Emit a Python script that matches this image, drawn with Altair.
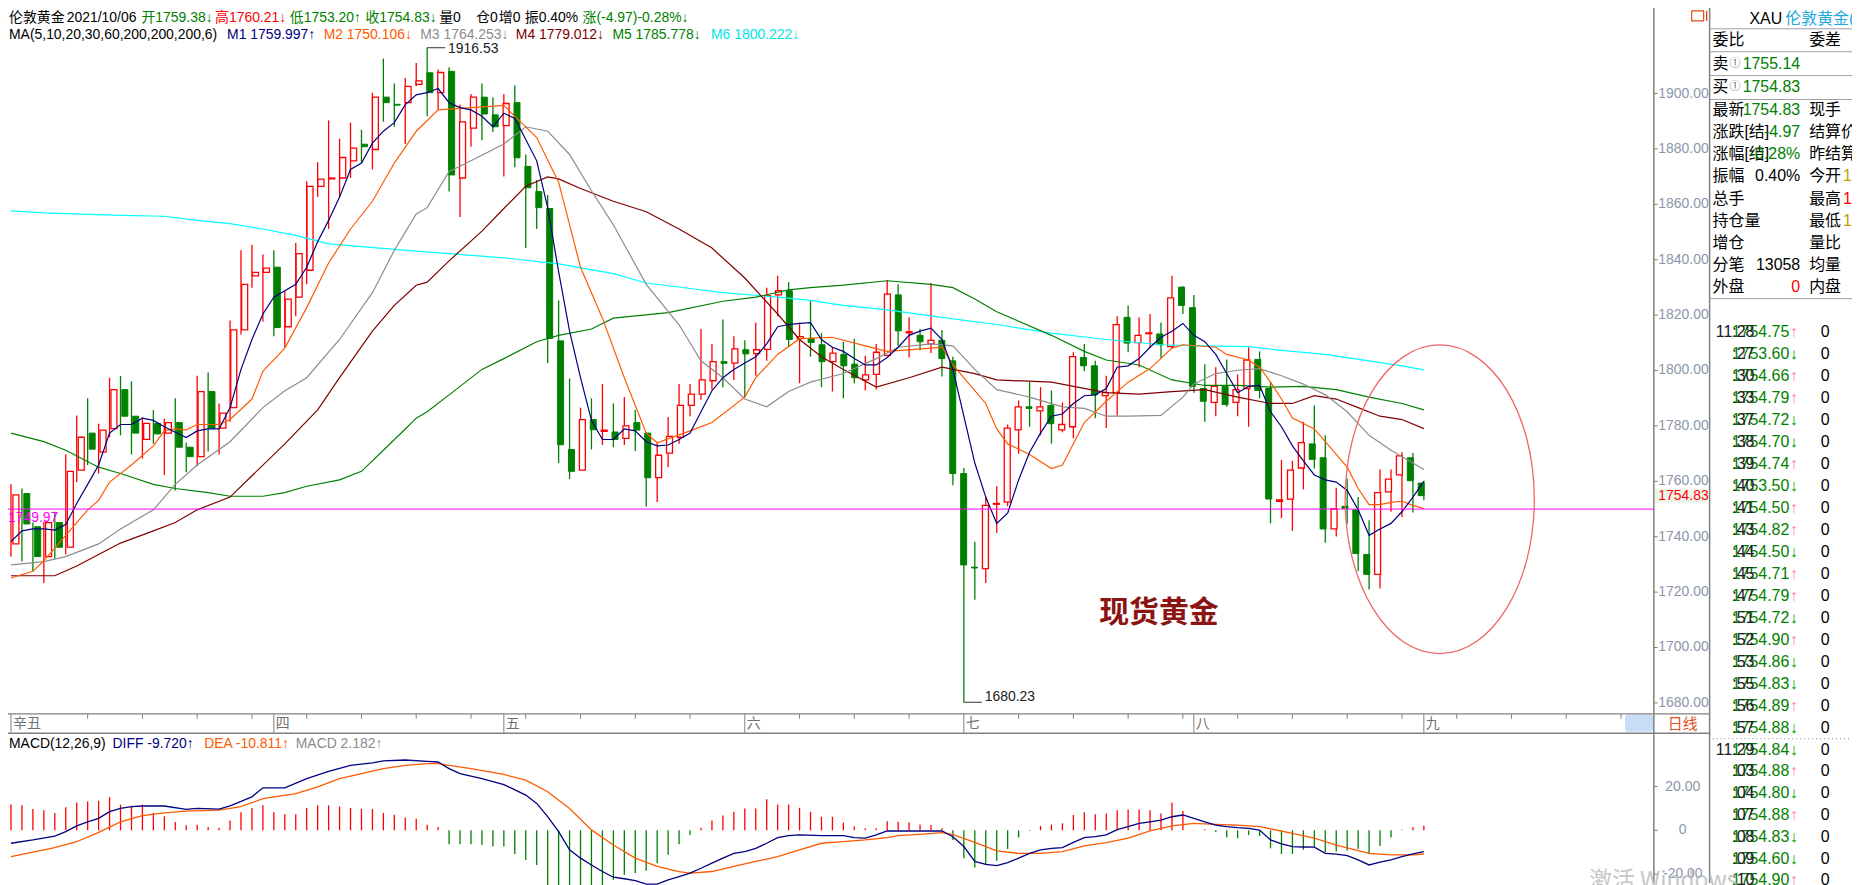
import altair as alt
import pandas as pd

# ---------------- values ----------------
OPEN = [1737.4, 1755.6, 1743.6, 1732.8, 1745.1, 1736.2, 1764.0, 1777.4, 1770.5, 1779.0,
        1793.1, 1783.5, 1775.1, 1780.9, 1777.4, 1781.2, 1772.3, 1768.9, 1792.4, 1779.2,
        1786.6, 1814.7, 1834.2, 1835.4, 1837.3, 1815.8, 1826.5, 1836.2, 1866.5, 1869.2,
        1869.5, 1875.7, 1881.7, 1879.8, 1898.7, 1896.1, 1896.7, 1903.3, 1907.5, 1900.3,
        1908.0, 1869.5, 1887.5, 1898.7, 1892.3, 1888.4, 1896.7, 1873.7, 1864.6, 1858.5,
        1810.7, 1771.5, 1764.0, 1782.3, 1778.0, 1777.8, 1775.5, 1781.2, 1777.4, 1761.3,
        1770.2, 1775.9, 1787.4, 1791.5, 1796.3, 1803.2, 1802.7, 1807.5, 1806.1, 1807.6,
        1827.3, 1828.8, 1811.5, 1811.6, 1809.3, 1803.2, 1805.8, 1802.3, 1796.6, 1798.6,
        1805.5, 1827.3, 1813.6, 1812.7, 1809.6, 1810.9, 1803.5, 1762.8, 1729.0, 1728.5,
        1751.7, 1752.5, 1778.6, 1786.9, 1785.4, 1787.4, 1778.6, 1779.7, 1804.7, 1801.7,
        1790.9, 1792.0, 1819.2, 1810.1, 1813.3, 1813.2, 1808.6, 1830.1, 1822.7, 1793.5,
        1788.5, 1794.3, 1788.5, 1793.5, 1804.0, 1793.5, 1752.8, 1753.6, 1764.8, 1773.5,
        1768.5, 1742.8, 1751.0, 1749.7, 1733.6, 1726.4, 1756.2, 1762.3, 1768.5, 1759.38]
HIGH = [1758.9, 1757.4, 1745.1, 1745.4, 1749.0, 1769.7, 1783.8, 1790.0, 1780.8, 1797.4,
        1798.0, 1796.1, 1783.2, 1785.7, 1782.6, 1790.0, 1773.9, 1798.1, 1799.3, 1788.1,
        1818.1, 1843.4, 1845.4, 1841.9, 1843.4, 1828.9, 1846.0, 1868.3, 1875.2, 1890.3,
        1883.7, 1889.5, 1886.9, 1900.3, 1912.6, 1903.6, 1905.6, 1911.0, 1916.53, 1908.7,
        1909.5, 1896.0, 1899.8, 1903.6, 1898.7, 1899.8, 1902.9, 1878.0, 1868.8, 1863.4,
        1825.3, 1797.1, 1786.6, 1790.0, 1795.1, 1788.1, 1790.4, 1785.7, 1777.6, 1774.0,
        1783.2, 1795.1, 1795.1, 1815.0, 1809.6, 1818.4, 1812.4, 1810.9, 1817.3, 1829.9,
        1834.2, 1831.9, 1817.3, 1825.3, 1813.5, 1808.4, 1810.4, 1811.5, 1805.3, 1809.6,
        1832.7, 1831.1, 1819.2, 1815.0, 1831.6, 1814.6, 1805.0, 1764.8, 1738.2, 1754.3,
        1758.2, 1780.5, 1789.2, 1795.8, 1794.0, 1792.8, 1788.5, 1806.6, 1809.6, 1803.5,
        1798.1, 1819.6, 1823.5, 1819.2, 1820.4, 1817.3, 1834.2, 1830.4, 1827.3, 1802.3,
        1801.2, 1804.0, 1798.6, 1808.4, 1806.9, 1795.8, 1767.7, 1767.4, 1781.5, 1787.4,
        1776.6, 1757.7, 1761.0, 1754.3, 1745.9, 1764.3, 1764.3, 1770.5, 1770.2, 1760.21]
LOW = [1732.8, 1731.0, 1727.5, 1723.3, 1732.1, 1733.6, 1759.7, 1765.9, 1762.8, 1775.9,
       1776.6, 1769.7, 1768.2, 1773.6, 1762.3, 1756.7, 1763.3, 1765.4, 1770.8, 1769.7,
       1781.5, 1813.0, 1829.9, 1817.6, 1812.4, 1808.4, 1819.6, 1831.1, 1862.6, 1851.1,
       1862.6, 1869.5, 1874.9, 1872.6, 1889.8, 1888.0, 1881.8, 1902.6, 1891.8, 1894.1,
       1864.6, 1855.4, 1880.8, 1883.1, 1886.1, 1870.0, 1873.4, 1844.2, 1851.1, 1802.7,
       1766.6, 1760.8, 1764.0, 1771.5, 1773.1, 1772.3, 1773.1, 1770.9, 1750.8, 1752.5,
       1765.1, 1773.6, 1783.5, 1789.4, 1793.1, 1794.0, 1796.6, 1790.4, 1798.1, 1803.5,
       1819.6, 1808.4, 1795.4, 1805.0, 1794.0, 1792.4, 1790.0, 1795.4, 1792.8, 1793.1,
       1805.3, 1808.9, 1804.7, 1807.3, 1806.3, 1797.8, 1758.6, 1680.23, 1717.2, 1723.3,
       1741.3, 1751.0, 1770.0, 1779.7, 1776.6, 1773.6, 1777.7, 1775.5, 1799.7, 1782.8,
       1779.2, 1783.8, 1806.6, 1801.2, 1808.1, 1804.3, 1807.8, 1820.4, 1792.0, 1781.5,
       1783.5, 1786.9, 1783.5, 1779.7, 1790.0, 1744.8, 1746.7, 1742.1, 1757.1, 1764.6,
       1737.8, 1740.1, 1744.7, 1727.5, 1720.9, 1721.3, 1749.0, 1747.1, 1748.7, 1753.20]
CLOSE = [1755.1, 1744.6, 1732.8, 1745.1, 1736.2, 1763.6, 1775.9, 1771.6, 1778.5, 1793.1,
         1783.5, 1777.4, 1780.9, 1777.1, 1781.2, 1772.3, 1768.9, 1792.4, 1779.2, 1784.6,
         1814.7, 1831.1, 1835.4, 1837.0, 1815.5, 1825.8, 1842.2, 1866.5, 1869.1, 1869.5,
         1876.9, 1880.3, 1880.8, 1898.7, 1896.7, 1895.8, 1902.6, 1904.6, 1900.3, 1907.6,
         1870.6, 1889.8, 1898.7, 1892.6, 1888.0, 1896.4, 1876.8, 1866.0, 1858.8, 1811.6,
         1773.2, 1763.6, 1782.3, 1778.6, 1778.5, 1775.1, 1780.0, 1778.5, 1761.3, 1769.4,
         1776.2, 1787.4, 1791.5, 1796.6, 1803.2, 1802.6, 1807.8, 1806.0, 1807.5, 1827.0,
         1828.8, 1811.2, 1812.2, 1810.1, 1803.2, 1806.3, 1801.7, 1797.4, 1798.4, 1806.6,
         1827.6, 1814.3, 1814.0, 1810.4, 1810.9, 1804.3, 1762.8, 1729.8, 1728.7, 1751.3,
         1752.0, 1779.2, 1786.9, 1786.3, 1786.9, 1780.8, 1780.5, 1805.0, 1801.7, 1791.2,
         1792.0, 1816.6, 1809.9, 1812.7, 1813.6, 1809.3, 1826.2, 1823.5, 1794.3, 1788.9,
         1794.3, 1787.7, 1793.1, 1803.8, 1792.8, 1753.6, 1753.3, 1764.0, 1774.0, 1767.9,
         1742.8, 1750.0, 1750.2, 1733.9, 1726.4, 1755.9, 1760.8, 1769.2, 1760.2, 1754.83]

MA5 = [1738.2, 1742.1, 1742.8, 1742.8, 1742.4, 1744.4, 1752.0, 1758.9, 1765.9, 1777.4,
       1780.5, 1780.5, 1782.8, 1782.0, 1779.7, 1777.7, 1775.8, 1778.2, 1778.9, 1778.9,
       1786.6, 1800.4, 1811.2, 1820.4, 1826.5, 1828.8, 1831.1, 1837.3, 1846.5, 1854.2,
       1862.6, 1872.6, 1874.9, 1882.1, 1886.4, 1889.5, 1896.0, 1899.5, 1900.3, 1901.8,
       1896.7, 1894.9, 1894.1, 1891.8, 1888.0, 1892.9, 1891.0, 1883.4, 1875.7, 1858.8,
       1835.7, 1814.2, 1797.4, 1782.0, 1775.1, 1775.1, 1778.9, 1778.2, 1774.3, 1772.8,
       1773.1, 1775.1, 1777.4, 1785.1, 1792.7, 1797.4, 1800.4, 1802.7, 1805.0, 1809.6,
       1815.8, 1816.6, 1817.0, 1817.3, 1811.2, 1808.4, 1806.9, 1804.3, 1802.0, 1802.0,
       1804.7, 1808.4, 1812.7, 1814.2, 1815.3, 1811.2, 1800.4, 1783.5, 1766.6, 1754.3,
       1744.8, 1748.5, 1760.5, 1770.5, 1777.4, 1783.5, 1784.3, 1788.1, 1790.9, 1791.2,
       1793.5, 1801.2, 1801.7, 1804.3, 1808.4, 1812.0, 1814.2, 1817.0, 1812.7, 1810.4,
       1805.8, 1798.9, 1792.0, 1794.3, 1794.6, 1785.1, 1779.7, 1772.8, 1767.4, 1762.3,
       1760.5, 1759.7, 1756.7, 1749.7, 1740.5, 1742.8, 1744.8, 1749.0, 1754.3, 1760.0]

MA10_I = [0, 2, 3, 5, 7, 8, 9, 11, 13, 14, 15, 16, 17, 19, 20, 22, 23, 25, 27, 29,
          31, 33, 35, 37, 39, 42, 45, 48, 50, 52, 54, 56, 58, 59, 62, 64, 67, 68, 70, 72,
          75, 78, 80, 84, 85, 86, 89, 90, 91, 93, 95, 96, 98, 100, 102, 104, 106, 107, 110, 111,
          113, 114, 115, 116, 117, 119, 120, 121, 122, 123, 124, 125, 126, 127, 128, 129]
MA10_V = [1725.1, 1727.5, 1731.3, 1740.5, 1749.7, 1753.1, 1759.7, 1765.9, 1772.8, 1778.2,
          1778.9, 1778.6, 1780.5, 1780.5, 1782.3, 1789.7, 1799.7, 1808.1, 1822.7, 1838.8,
          1851.1, 1861.1, 1874.9, 1886.4, 1894.1, 1894.9, 1895.7, 1884.1, 1868.0, 1837.3,
          1818.9, 1797.4, 1777.4, 1773.9, 1778.2, 1781.2, 1790.4, 1797.4, 1805.8, 1811.5,
          1812.0, 1808.9, 1806.9, 1808.1, 1808.4, 1802.0, 1788.1, 1778.9, 1773.5, 1769.7,
          1764.6, 1765.9, 1781.2, 1788.9, 1795.8, 1800.7, 1808.1, 1809.3, 1808.4, 1805.8,
          1803.8, 1801.2, 1795.8, 1789.7, 1782.8, 1778.9, 1774.3, 1769.7, 1765.1, 1757.4,
          1751.6, 1751.6, 1752.4, 1752.8, 1751.3, 1750.11]

MA20_I = [0, 3, 5, 8, 10, 13, 15, 17, 20, 23, 25, 27, 30, 33, 35, 37, 38, 40, 42, 45,
          47, 49, 51, 53, 55, 58, 61, 63, 65, 67, 69, 71, 73, 76, 79, 81, 84, 86, 88, 90,
          93, 96, 98, 100, 102, 105, 107, 108, 110, 112, 114, 116, 118, 120, 122, 124, 126, 128, 129]
MA20_V = [1729.8, 1731.0, 1732.8, 1737.4, 1742.8, 1749.7, 1758.9, 1765.9, 1774.3, 1786.6,
          1792.7, 1797.4, 1811.2, 1828.1, 1843.4, 1856.5, 1858.8, 1871.9, 1875.7, 1881.8,
          1888.0, 1886.4, 1878.0, 1864.9, 1852.6, 1831.1, 1816.5, 1803.5, 1797.4, 1789.7,
          1786.9, 1792.4, 1795.8, 1798.9, 1804.3, 1808.4, 1809.6, 1808.9, 1800.4, 1793.1,
          1790.4, 1786.9, 1786.3, 1783.5, 1783.5, 1783.8, 1790.4, 1795.1, 1798.9, 1800.1,
          1800.7, 1798.1, 1795.1, 1791.2, 1785.1, 1776.6, 1771.2, 1766.6, 1764.25]

MA30_I = [0, 2, 4, 6, 8, 10, 13, 15, 17, 20, 22, 25, 28, 30, 33, 35, 37, 38, 40, 43,
          45, 47, 49, 50, 52, 55, 58, 61, 64, 67, 70, 72, 74, 76, 79, 82, 85, 88, 90, 95,
          100, 103, 106, 109, 112, 115, 117, 119, 121, 123, 125, 127, 129]
MA30_V = [1725.9, 1725.9, 1725.9, 1729.4, 1733.6, 1737.7, 1742.1, 1745.1, 1749.7, 1754.3,
          1762.0, 1773.5, 1785.8, 1797.4, 1814.2, 1823.5, 1830.8, 1831.9, 1839.6, 1850.3,
          1858.5, 1866.5, 1869.9, 1869.2, 1865.7, 1861.1, 1857.3, 1851.1, 1844.2, 1833.4,
          1820.4, 1811.2, 1805.0, 1800.4, 1794.0, 1797.4, 1801.2, 1798.9, 1796.6, 1795.8,
          1792.0, 1791.5, 1792.4, 1793.1, 1790.4, 1788.1, 1788.1, 1790.9, 1789.7, 1786.6,
          1783.5, 1782.3, 1779.01]

MA60_I = [0, 3, 5, 8, 10, 13, 15, 18, 20, 23, 25, 27, 30, 32, 34, 36, 37, 38, 40, 43,
          45, 48, 50, 53, 55, 60, 65, 68, 71, 73, 76, 80, 84, 86, 88, 90, 95, 98, 100, 103,
          106, 109, 112, 115, 118, 121, 124, 127, 129]
MA60_V = [1777.4, 1774.3, 1771.2, 1765.1, 1762.8, 1758.9, 1757.4, 1755.9, 1754.6, 1754.6,
          1755.9, 1758.2, 1760.5, 1763.6, 1771.2, 1778.9, 1782.8, 1785.1, 1791.2, 1800.4,
          1804.3, 1810.4, 1812.7, 1815.0, 1818.9, 1820.9, 1825.0, 1826.5, 1829.1, 1829.9,
          1830.8, 1832.4, 1831.1, 1829.9, 1825.8, 1821.2, 1812.7, 1806.9, 1803.8, 1802.0,
          1796.6, 1794.6, 1794.6, 1794.0, 1794.3, 1793.1, 1790.4, 1788.1, 1785.78]

MA200_I = [0, 3, 10, 14, 17, 20, 23, 26, 29, 32, 37, 40, 45, 50, 55, 58, 62, 65, 70, 73,
           76, 80, 85, 90, 95, 100, 105, 109, 113, 116, 120, 124, 127, 129]
MA200_V = [1857.6, 1856.9, 1856.0, 1855.7, 1854.2, 1853.0, 1851.1, 1848.8, 1845.7, 1844.7,
           1843.1, 1842.2, 1840.7, 1838.5, 1835.0, 1831.6, 1829.6, 1828.1, 1826.5, 1825.3,
           1823.5, 1821.9, 1819.2, 1816.6, 1813.5, 1811.2, 1809.3, 1808.9, 1808.6, 1807.3,
           1805.8, 1803.5, 1801.7, 1800.22]

MACD_HIST = [11.8, 11.5, 9.7, 9.2, 7.9, 10.5, 12.7, 13.2, 13.5, 15.2,
             11.7, 10.9, 11.7, 7.9, 6.4, 3.8, 2.3, 2.6, 1.5, 1.1,
             4.5, 8.2, 10.2, 11.4, 8.3, 7.4, 7.4, 10.2, 11.4, 11.4,
             10.9, 10.2, 9.8, 9.7, 7.9, 7.1, 5.9, 5.3, 2.6, 1.5,
             -6.4, -6.4, -6.4, -6.7, -7.4, -7.4, -10.8, -13.5, -15.8, -26.0,
             -29.0, -31.0, -30.0, -28.0, -25.0, -22.6, -20.3, -19.5, -18.5, -15.0,
             -11.2, -6.4, -2.1, 1.1, 4.5, 6.8, 8.5, 10.0, 10.0, 14.2,
             11.8, 11.8, 10.3, 8.5, 6.2, 6.2, 3.5, 1.7, 0.9, 0.9,
             4.2, 3.9, 3.6, 2.7, 2.4, 0.9, -4.4, -12.7, -17.0, -15.8,
             -13.9, -8.5, -3.3, -0.3, 2.0, 2.7, 3.2, 7.0, 8.2, 7.3,
             7.7, 9.2, 9.5, 9.5, 9.2, 7.7, 12.7, 8.8, 0.2, 0.5,
             -0.8, -3.3, -3.6, -2.1, -2.6, -8.2, -10.8, -10.8, -8.9, -7.9,
             -10.0, -9.7, -9.2, -8.5, -10.9, -7.1, -3.3, 0.3, 1.4, 2.18]

DIFF_I = [0, 2, 4, 5, 6, 7, 8, 9, 10, 11, 12, 14, 16, 17, 19, 20, 22, 23, 25, 27,
          29, 31, 33, 34, 36, 38, 39, 40, 41, 43, 45, 47, 48, 49, 50, 51, 52, 53, 54, 55,
          56, 57, 58, 59, 60, 61, 62, 63, 64, 65, 66, 67, 68, 69, 70, 71, 72, 74, 76, 77,
          78, 79, 80, 81, 82, 83, 84, 85, 86, 87, 88, 89, 90, 91, 92, 93, 94, 95, 96, 97,
          98, 99, 100, 101, 102, 103, 104, 105, 106, 107, 108, 109, 110, 111, 112, 113, 114, 115, 116, 117,
          118, 119, 120, 121, 122, 123, 124, 125, 126, 127, 128, 129]
DIFF_V = [-5.9, -4.4, -2.6, -0.6, 2.0, 3.9, 5.5, 8.5, 10.0, 10.8, 11.1, 11.1, 9.6, 10.0, 9.7, 11.2, 15.3, 19.4, 19.4, 23.6,
          26.9, 29.7, 30.8, 31.7, 32.1, 31.5, 31.2, 28.2, 25.9, 23.6, 20.9, 16.1, 12.3, 6.3, -0.6, -8.9, -12.7, -15.8, -18.8, -21.4,
          -22.1, -23.0, -24.6, -24.6, -22.6, -21.1, -19.5, -17.3, -15.0, -12.7, -10.5, -9.7, -8.2, -5.9, -3.3, -2.4, -2.1, -2.4, -2.4, -3.3,
          -3.6, -2.1, -0.3, -0.3, -0.3, -0.3, -0.3, -0.3, -2.9, -7.4, -14.2, -15.5, -16.1, -14.7, -12.7, -10.5, -8.9, -8.2, -7.9, -5.5,
          -3.3, -2.9, -2.1, 0.3, 1.7, 3.2, 3.9, 4.7, 6.2, 7.0, 5.5, 3.9, 2.4, 1.7, 1.2, 0.9, 0.15, -4.4, -6.2, -7.4,
          -7.6, -7.7, -10.5, -10.9, -11.5, -13.5, -15.8, -14.5, -13.5, -12.0, -10.8, -9.72]

DEA_I = [0, 2, 4, 6, 8, 10, 12, 14, 16, 19, 21, 23, 26, 28, 30, 32, 34, 36, 38, 39,
         40, 42, 45, 47, 49, 51, 53, 55, 57, 59, 61, 62, 64, 66, 68, 70, 72, 74, 76, 78,
         80, 81, 83, 85, 86, 88, 90, 92, 94, 96, 98, 100, 102, 104, 106, 108, 110, 112, 114, 117,
         119, 121, 124, 126, 128, 129]
DEA_V = [-12.0, -10.0, -7.9, -5.2, -0.9, 3.9, 6.7, 8.0, 8.8, 9.2, 10.8, 14.5, 16.8, 19.8, 23.6, 25.9, 28.2, 29.7, 30.5, 30.5,
         29.7, 28.2, 25.5, 22.9, 17.6, 10.0, 0.2, -6.7, -12.7, -16.5, -18.8, -19.5, -18.8, -16.5, -14.2, -12.0, -8.9, -5.9, -5.2, -4.4,
         -3.3, -2.4, -1.8, -1.05, -2.0, -5.5, -9.4, -10.5, -10.5, -9.7, -7.1, -5.6, -3.6, -0.3, 2.0, 3.2, 2.7, 2.4, 1.7, -1.4,
         -3.6, -6.7, -10.5, -11.2, -11.2, -10.81]

PRICE_TICKS = [1680, 1700, 1720, 1740, 1760, 1780, 1800, 1820, 1840, 1860, 1880, 1900]
MACD_TICKS = [20, 0, -20]
MACD_TICK_TEXT = ["20.00", "0", "-20.00"]
MONTH_LABELS = ["辛丑", "四", "五", "六", "七", "八", "九"]
MONTH_AT = [0, 24, 45, 67, 87, 108, 129]
MINOR_AT = [7, 12, 17, 22, 27, 32, 37, 42, 47, 52, 57, 62, 72, 77, 82, 92, 97, 102,
            107, 112, 117, 122, 127, 132, 137, 142, 147]
HIGH_MARK_I, HIGH_MARK_V = 38, 1916.53
LOW_MARK_I, LOW_MARK_V = 87, 1680.23
HLINE_PRICE = 1749.97
LAST_PRICE = 1754.83

TS_TIME = ["11:28", ":27", ":30", ":33", ":37", ":38", ":39", ":40", ":41", ":43", ":44", ":45", ":47",
           ":51", ":52", ":53", ":55", ":56", ":57", "11:29", ":03", ":04", ":07", ":08", ":09", ":10"]
TS_PRICE = ["1754.75", "1753.60", "1754.66", "1754.79", "1754.72", "1754.70", "1754.74", "1753.50",
            "1754.50", "1754.82", "1754.50", "1754.71", "1754.79", "1754.72", "1754.90", "1754.86",
            "1754.83", "1754.89", "1754.88", "1754.84", "1754.88", "1754.80", "1754.88", "1754.83",
            "1754.60", "1754.90"]
TS_DIR = ["↑", "↓", "↑", "↑", "↓", "↓", "↑", "↓", "↑", "↑", "↓", "↑", "↑",
          "↓", "↑", "↓", "↓", "↑", "↓", "↓", "↑", "↓", "↑", "↓", "↓", "↑"]

# ---------------- layout / style ----------------
W, H = 1860, 885
AXIS_X, PANEL_X = 1661, 1717
FONT = "Liberation Sans, Arial, Noto Sans CJK SC, sans-serif"
CJK = "Noto Sans CJK SC, Liberation Sans, sans-serif"
RED, GREEN, NAVY, ORANGE = "#ff0000", "#008000", "#000080", "#ff5a00"
GRAY, MAROON, CYAN, BLACK = "#8c8c8c", "#800000", "#00ffff", "#000000"
LINE, AXT, GOLD = "#808080", "#8a96aa", "#c0a000"

XI = alt.Scale(domain=[-1, (W - 11) / 11], nice=False, zero=False)
YP = alt.Scale(domain=[1900 - (H - 92) / 2.7818, 1900 + 92 / 2.7818], nice=False, zero=False)
YM = alt.Scale(domain=[-(H - 832) / 2.2, 832 / 2.2], nice=False, zero=False)
XPX = alt.Scale(domain=[0, W], nice=False, zero=False)
YPX = alt.Scale(domain=[0, H], reverse=True, nice=False, zero=False)


def xi(f="i"):
    return alt.X(f + ":Q", scale=XI, axis=None)


def px_enc():
    return dict(x=alt.X("px:Q", scale=XPX, axis=None), y=alt.Y("py:Q", scale=YPX, axis=None))


def text_layer(rows, align="left", font=FONT, weight="normal", baseline="middle", opacity=1.0):
    df = pd.DataFrame(rows, columns=["t", "px", "py", "c", "s"])
    return alt.Chart(df).mark_text(align=align, baseline=baseline, font=font,
                                   fontWeight=weight, opacity=opacity).encode(
        text=alt.Text("t:N"), color=alt.Color("c:N", scale=None),
        size=alt.Size("s:Q", scale=None), **px_enc())


layers = []

# background boxes
boxes = pd.DataFrame([(1632, 1661, 716, 733, "#c8ddf5"), (1662, 1716, 489, 503, "#edf5ed")],
                     columns=["x", "x2", "y", "y2", "c"])
layers.append(alt.Chart(boxes).mark_rect(cornerRadius=3).encode(
    x=alt.X("x:Q", scale=XPX, axis=None), x2="x2:Q",
    y=alt.Y("y:Q", scale=YPX, axis=None), y2="y2:Q", color=alt.Color("c:N", scale=None)))
obox = pd.DataFrame([(1699, 1711, 9, 19)], columns=["x", "x2", "y", "y2"])
layers.append(alt.Chart(obox).mark_rect(fillOpacity=0, stroke="#e0501a", strokeWidth=1.2).encode(
    x=alt.X("x:Q", scale=XPX, axis=None), x2="x2:Q", y=alt.Y("y:Q", scale=YPX, axis=None), y2="y2:Q"))

# frame lines
frame = pd.DataFrame([
    (AXIS_X, AXIS_X, 0, H, LINE, 1.5), (PANEL_X, PANEL_X, 0, H, LINE, 1.5),
    (0, PANEL_X, 715, 715, LINE, 1.3), (0, PANEL_X, 734.5, 734.5, LINE, 1.6),
    (1714, 1714, 9, 19, "#e0501a", 1.5),
    (PANEL_X, W, 27, 27, "#a0a0a0", 1), (PANEL_X, W, 50, 50, "#a0a0a0", 1),
    (PANEL_X, W, 74, 74, "#a0a0a0", 1), (PANEL_X, W, 98, 98, "#a0a0a0", 1),
    (PANEL_X, W, 298, 298, "#a0a0a0", 1),
], columns=["x", "x2", "y", "y2", "c", "w"])
layers.append(alt.Chart(frame).mark_rule().encode(
    x=alt.X("x:Q", scale=XPX, axis=None), x2="x2:Q",
    y=alt.Y("y:Q", scale=YPX, axis=None), y2="y2:Q",
    color=alt.Color("c:N", scale=None), strokeWidth=alt.StrokeWidth("w:Q", scale=None)))
dots = pd.DataFrame([(1720, W, 740, 740)], columns=["x", "x2", "y", "y2"])
layers.append(alt.Chart(dots).mark_rule(color="#808080", strokeDash=[1, 3], strokeWidth=1).encode(
    x=alt.X("x:Q", scale=XPX, axis=None), x2="x2:Q", y=alt.Y("y:Q", scale=YPX, axis=None), y2="y2:Q"))

# candles
idx = list(range(len(CLOSE)))
cd = pd.DataFrame({"i": idx, "o": OPEN, "h": HIGH, "l": LOW, "c": CLOSE})
cd["up"] = cd["c"] >= cd["o"]
cd["lo"] = cd[["o", "c"]].min(axis=1)
cd["hi"] = cd[["o", "c"]].max(axis=1)
cd["col"] = cd["up"].map({True: RED, False: GREEN})
layers.append(alt.Chart(cd).mark_rule(strokeWidth=1.3).encode(
    x=xi(), y=alt.Y("l:Q", scale=YP, axis=None), y2="h:Q", color=alt.Color("col:N", scale=None)))
layers.append(alt.Chart(cd[cd["up"]]).mark_bar(size=6, fill="white", stroke=RED, strokeWidth=1.3).encode(
    x=xi(), y=alt.Y("lo:Q", scale=YP, axis=None), y2="hi:Q"))
layers.append(alt.Chart(cd[~cd["up"]]).mark_bar(size=6, fill=GREEN, stroke=GREEN, strokeWidth=1).encode(
    x=xi(), y=alt.Y("lo:Q", scale=YP, axis=None), y2="hi:Q"))

# moving averages
ma_rows = []
for name, col, ii, vv in [("M6", CYAN, MA200_I, MA200_V), ("M5", GREEN, MA60_I, MA60_V),
                          ("M4", MAROON, MA30_I, MA30_V), ("M3", GRAY, MA20_I, MA20_V),
                          ("M2", ORANGE, MA10_I, MA10_V), ("M1", NAVY, idx, MA5)]:
    for a, b in zip(ii, vv):
        ma_rows.append({"i": a, "v": b, "m": name, "col": col})
ma = pd.DataFrame(ma_rows)
layers.append(alt.Chart(ma).mark_line(strokeWidth=1.2).encode(
    x=xi(), y=alt.Y("v:Q", scale=YP, axis=None), color=alt.Color("col:N", scale=None), detail="m:N"))

# user drawn horizontal line
layers.append(alt.Chart(pd.DataFrame({"v": [HLINE_PRICE]})).mark_rule(color="#ff00ff", strokeWidth=1).encode(
    y=alt.Y("v:Q", scale=YP, axis=None), x=alt.value(0), x2=alt.value(AXIS_X)))
layers.append(alt.Chart(pd.DataFrame({"v": [HLINE_PRICE], "t": [f"{HLINE_PRICE:.2f}"]})).mark_text(
    align="left", baseline="middle", font=FONT, fontSize=14, color="#ff00ff", dy=9).encode(
    y=alt.Y("v:Q", scale=YP, axis=None), x=alt.value(8), text="t:N"))

# ellipse annotation
ELLIPSE = ("M 0 -1 C 0.3385 -1 0.6129 -0.5523 0.6129 0 C 0.6129 0.5523 0.3385 1 0 1 "
           "C -0.3385 1 -0.6129 0.5523 -0.6129 0 C -0.6129 -0.5523 -0.3385 -1 0 -1 Z")
layers.append(alt.Chart(pd.DataFrame({"i": [130.45], "v": [1753.5]})).mark_point(
    shape=ELLIPSE, size=310 ** 2, filled=False, color="#f06666", strokeWidth=1.3, opacity=1).encode(
    x=xi(), y=alt.Y("v:Q", scale=YP, axis=None)))

# high / low markers
marks = pd.DataFrame({"i": [HIGH_MARK_I, LOW_MARK_I], "v": [HIGH_MARK_V, LOW_MARK_V]})
marks["i2"] = marks["i"] + 1.64
marks["t"] = [f"{v:.2f}" for v in marks["v"]]
layers.append(alt.Chart(marks).mark_rule(color="#303030", strokeWidth=1).encode(
    x=xi(), x2="i2:Q", y=alt.Y("v:Q", scale=YP, axis=None)))
layers.append(alt.Chart(marks.iloc[[0]]).mark_text(
    align="left", baseline="middle", font=FONT, fontSize=14, color="#202020", dx=21, dy=1).encode(
    x=xi(), y=alt.Y("v:Q", scale=YP, axis=None), text="t:N"))
layers.append(alt.Chart(marks.iloc[[1]]).mark_text(
    align="left", baseline="alphabetic", font=FONT, fontSize=14, color="#202020", dx=21, dy=-1).encode(
    x=xi(), y=alt.Y("v:Q", scale=YP, axis=None), text="t:N"))

# price axis (right)
pt = pd.DataFrame({"v": PRICE_TICKS, "t": [f"{p:.2f}" for p in PRICE_TICKS]})
layers.append(alt.Chart(pt).mark_rule(color=LINE, strokeWidth=1).encode(
    y=alt.Y("v:Q", scale=YP, axis=None), x=alt.value(AXIS_X), x2=alt.value(AXIS_X + 4)))
layers.append(alt.Chart(pt).mark_text(align="right", baseline="middle", font=FONT, fontSize=14, color=AXT).encode(
    y=alt.Y("v:Q", scale=YP, axis=None), x=alt.value(1716), text="t:N"))
layers.append(alt.Chart(pd.DataFrame({"v": [LAST_PRICE], "t": [f"{LAST_PRICE:.2f}"]})).mark_text(
    align="right", baseline="middle", font=FONT, fontSize=14, color=RED).encode(
    y=alt.Y("v:Q", scale=YP, axis=None), x=alt.value(1716), text="t:N"))

# time axis strip
layers.append(alt.Chart(pd.DataFrame({"i": MINOR_AT})).mark_rule(color=LINE, strokeWidth=1).encode(
    x=xi(), y=alt.value(715), y2=alt.value(720)))
ml = pd.DataFrame({"i": MONTH_AT, "t": MONTH_LABELS})
layers.append(alt.Chart(ml).mark_rule(color=LINE, strokeWidth=1).encode(
    x=xi(), y=alt.value(715), y2=alt.value(734)))
layers.append(alt.Chart(ml).mark_text(align="left", baseline="middle", font=CJK, fontSize=14, color="#707070", dx=2).encode(
    x=xi(), y=alt.value(725), text="t:N"))

# MACD panel
md = pd.DataFrame({"i": idx, "v": MACD_HIST})
md["z"] = 0.0
md["col"] = [RED if v >= 0 else GREEN for v in MACD_HIST]
layers.append(alt.Chart(md).mark_rule(strokeWidth=1.3).encode(
    x=xi(), y=alt.Y("z:Q", scale=YM, axis=None), y2="v:Q", color=alt.Color("col:N", scale=None)))
mrows = [{"i": a, "v": b, "m": "DEA", "col": ORANGE} for a, b in zip(DEA_I, DEA_V)] + \
        [{"i": a, "v": b, "m": "DIFF", "col": NAVY} for a, b in zip(DIFF_I, DIFF_V)]
layers.append(alt.Chart(pd.DataFrame(mrows)).mark_line(strokeWidth=1.3).encode(
    x=xi(), y=alt.Y("v:Q", scale=YM, axis=None), color=alt.Color("col:N", scale=None), detail="m:N"))
mt = pd.DataFrame({"v": MACD_TICKS, "t": MACD_TICK_TEXT})
layers.append(alt.Chart(mt).mark_rule(color=LINE, strokeWidth=1).encode(
    y=alt.Y("v:Q", scale=YM, axis=None), x=alt.value(AXIS_X), x2=alt.value(AXIS_X + 4)))
layers.append(alt.Chart(mt).mark_text(align="center", baseline="middle", font=FONT, fontSize=14, color=AXT).encode(
    y=alt.Y("v:Q", scale=YM, axis=None), x=alt.value(1690), text="t:N"))

# header texts
o, h, l, c = OPEN[-1], HIGH[-1], LOW[-1], CLOSE[-1]
R1 = 16
hdr1 = [("伦敦黄金", 9, R1, BLACK, 14), ("2021/10/06", 67, R1, BLACK, 14),
        (f"开{o:.2f}↓", 142, R1, GREEN, 14), (f"高{h:.2f}↓", 216, R1, RED, 14),
        (f"低{l:.2f}↑", 291, R1, GREEN, 14), (f"收{c:.2f}↓", 367, R1, GREEN, 14),
        ("量0", 441, R1, BLACK, 14), ("仓0", 478, R1, BLACK, 14), ("增0", 501, R1, BLACK, 14),
        ("振0.40%", 527, R1, BLACK, 14), ("涨(-4.97)-0.28%↓", 585, R1, GREEN, 14)]
hdr2 = [("MA(5,10,20,30,60,200,200,200,6)", 9, 33, BLACK, 14), ("M1 1759.997↑", 228, 33, NAVY, 14),
        ("M2 1750.106↓", 325, 33, ORANGE, 14), ("M3 1764.253↓", 422, 33, GRAY, 14),
        ("M4 1779.012↓", 518, 33, MAROON, 14), ("M5 1785.778↓", 615, 33, GREEN, 14),
        ("M6 1800.222↓", 714, 33, "#00e5e5", 14)]
hdr3 = [("MACD(12,26,9)", 9, 745, BLACK, 14), ("DIFF -9.720↑", 113, 745, NAVY, 14),
        ("DEA -10.811↑", 205, 745, ORANGE, 14), ("MACD 2.182↑", 297, 745, GRAY, 14),
        ("日线", 1675, 725, "#e0501a", 15)]
layers.append(text_layer(hdr1 + hdr2 + hdr3))
layers.append(text_layer([("现货黄金", 1104, 614, "#8b1414", 30)], font=CJK, weight="bold"))

# right quote panel
pl = [("XAU", 1757, 17, BLACK, 16), ("伦敦黄金(", 1793, 17, "#20a8e0", 16),
      ("委比", 1720, 38, BLACK, 16), ("委差", 1817, 38, BLACK, 16),
      ("卖", 1720, 62, BLACK, 16), ("①", 1737, 62, "#707070", 11),
      ("买", 1720, 85, BLACK, 16), ("①", 1737, 85, "#707070", 11),
      ("最新", 1720, 109, BLACK, 16), ("现手", 1817, 109, BLACK, 16),
      ("涨跌[结]", 1720, 131, BLACK, 16), ("结算价", 1817, 131, BLACK, 16),
      ("涨幅[结]", 1720, 153, BLACK, 16), ("昨结算", 1817, 153, BLACK, 16),
      ("振幅", 1720, 175, BLACK, 16), ("今开", 1817, 175, BLACK, 16), (f"{o:.2f}", 1851, 175, GOLD, 16),
      ("总手", 1720, 198, BLACK, 16), ("最高", 1817, 198, BLACK, 16), (f"{h:.2f}", 1851, 198, RED, 16),
      ("持仓量", 1720, 220, BLACK, 16), ("最低", 1817, 220, BLACK, 16), (f"{l:.2f}", 1851, 220, GOLD, 16),
      ("增仓", 1720, 242, BLACK, 16), ("量比", 1817, 242, BLACK, 16),
      ("分笔", 1720, 264, BLACK, 16), ("均量", 1817, 264, BLACK, 16),
      ("外盘", 1720, 286, BLACK, 16), ("内盘", 1817, 286, BLACK, 16)]
pr = [("1755.14", 1808, 62, GREEN, 16), (f"{c:.2f}", 1808, 85, GREEN, 16), (f"{c:.2f}", 1808, 109, GREEN, 16),
      ("-4.97", 1808, 131, GREEN, 16), ("-0.28%", 1808, 153, GREEN, 16), ("0.40%", 1808, 175, BLACK, 16),
      ("13058", 1808, 264, BLACK, 16), ("0", 1808, 286, RED, 16)]
layers.append(text_layer(pl))
layers.append(text_layer(pr, align="right"))

# time & sales list
ts_price, ts_time, ts_dir, ts_vol = [], [], [], []
for k, (tm, p, d) in enumerate(zip(TS_TIME, TS_PRICE, TS_DIR)):
    yy = 332 + 22.05 * k if k < 19 else 751 + 21.9 * (k - 19)
    ts_price.append((p, 1797, yy, GREEN, 16))
    ts_time.append((tm, 1762, yy, "#202020", 16))
    ts_dir.append((d, 1798, yy, "#ff8090" if d == "↑" else "#00a000", 16))
    ts_vol.append(("0", 1833, yy, BLACK, 16))
layers.append(text_layer(ts_price, align="right"))
layers.append(text_layer(ts_time, align="right"))
layers.append(text_layer(ts_dir))
layers.append(text_layer(ts_vol, align="center"))

# screen watermark
layers.append(text_layer([("激活 Windows", 1596, 890, "#b8b8b8", 23)], font=CJK, baseline="alphabetic", opacity=0.8))

chart = alt.layer(*layers).resolve_scale(
    x="independent", y="independent", color="independent", size="independent"
).properties(
    width=W, height=H,
    autosize=alt.AutoSizeParams(type="none"),
    padding={"left": -8, "top": -8, "right": 0, "bottom": 0},
    background="white",
).configure_view(stroke=None)

chart.save("out.html", embed_options={"renderer": "svg", "actions": False})
